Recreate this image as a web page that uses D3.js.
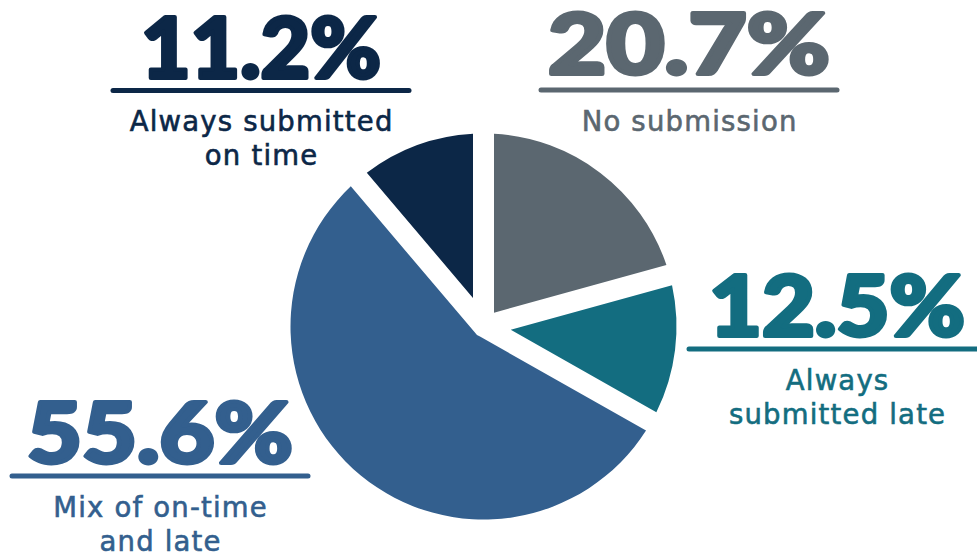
<!DOCTYPE html>
<html>
<head>
<meta charset="utf-8">
<script src="https://cdn.jsdelivr.net/npm/d3@7"></script>
<style>
  html, body { margin: 0; padding: 0; background: #fff; }
  svg { display: block; }
  .num { font-family: "Lato", "Inter", sans-serif; font-weight: 900; }
  .lbl { font-family: "DejaVu Sans", sans-serif; letter-spacing: 1.2px; }
</style>
</head>
<body>
<script>
// data, clockwise from 12 o'clock
var categories = ["No submission", "Always submitted late", "Mix of on-time and late", "Always submitted on time"];
var values = [20.7, 12.5, 55.6, 11.2];
var valueLabels = ["20.7%", "12.5%", "55.6%", "11.2%"];
var labelLines = [["No submission"], ["Always", "submitted late"], ["Mix of on-time", "and late"], ["Always submitted", "on time"]];
var colors = ["#5b6770", "#136d80", "#335f8e", "#0c2747"];

var width = 977,
    height = 555;

// where each callout sits (x centre, number baseline, number width, rule y, rule half width, first label baseline)
var callouts = [
    { x: 689, numY: 74, numW: 282, ruleY: 90, ruleHalf: 148, lblY: 131 },
    { x: 837, numY: 336, numW: 256, ruleY: 349, ruleHalf: 148, lblY: 390 },
    { x: 160, numY: 463, numW: 266, ruleY: 476, ruleHalf: 148, lblY: 517 },
    { x: 261, numY: 78, numW: 240, ruleY: 90.5, ruleHalf: 148, lblY: 131 }
];

var cx = 483.5,
    cy = 326.5,
    radius = 193,
    gap = 21; // white gap between slices, same width all along

var svg = d3.select("body").append("svg")
    .attr("width", width)
    .attr("height", height);

var pie = d3.pie()
    .sort(null)
    .value(function (d) { return d; });

// constant-width gaps: pad at a fixed linear distance, and start each slice
// where its two padded edges meet
var padA = 0.1;
var arc = d3.arc()
    .innerRadius(function (d) {
        return (gap / 2) / Math.sin((d.endAngle - d.startAngle) / 2) * 1.0005;
    })
    .outerRadius(radius)
    .padAngle(padA)
    .padRadius((gap / 2) / Math.sin(padA / 2));

var g = svg.append("g")
    .attr("transform", "translate(" + cx + "," + cy + ")");

g.selectAll(".slice")
    .data(pie(values))
    .enter().append("path")
    .attr("class", "slice")
    .attr("d", arc)
    .attr("fill", function (d, i) { return colors[i]; });

// callouts
var c = svg.selectAll(".callout")
    .data(categories)
    .enter().append("g")
    .attr("class", "callout")
    .attr("fill", function (d, i) { return colors[i]; });

c.append("text")
    .attr("class", "num")
    .attr("x", function (d, i) { return callouts[i].x; })
    .attr("y", function (d, i) { return callouts[i].numY; })
    .attr("text-anchor", "middle")
    .attr("font-size", 84)
    .attr("stroke", function (d, i) { return colors[i]; })
    .attr("stroke-width", 4)
    .attr("stroke-linejoin", "round")
    .attr("textLength", function (d, i) { return callouts[i].numW; })
    .attr("lengthAdjust", "spacingAndGlyphs")
    .text(function (d, i) { return valueLabels[i]; });

c.append("line")
    .attr("x1", function (d, i) { return callouts[i].x - callouts[i].ruleHalf; })
    .attr("x2", function (d, i) { return callouts[i].x + callouts[i].ruleHalf; })
    .attr("y1", function (d, i) { return callouts[i].ruleY; })
    .attr("y2", function (d, i) { return callouts[i].ruleY; })
    .attr("stroke", function (d, i) { return colors[i]; })
    .attr("stroke-width", 5)
    .attr("stroke-linecap", "round");

c.each(function (d, i) {
    d3.select(this).selectAll(".lbl")
        .data(labelLines[i])
        .enter().append("text")
        .attr("class", "lbl")
        .attr("x", callouts[i].x + 0.6)
        .attr("y", function (t, j) { return callouts[i].lblY + j * 34; })
        .attr("text-anchor", "middle")
        .attr("font-size", 27.5)
        .attr("stroke", colors[i])
        .attr("stroke-width", 0.6)
        .text(function (t) { return t; });
});
</script>
</body>
</html>
